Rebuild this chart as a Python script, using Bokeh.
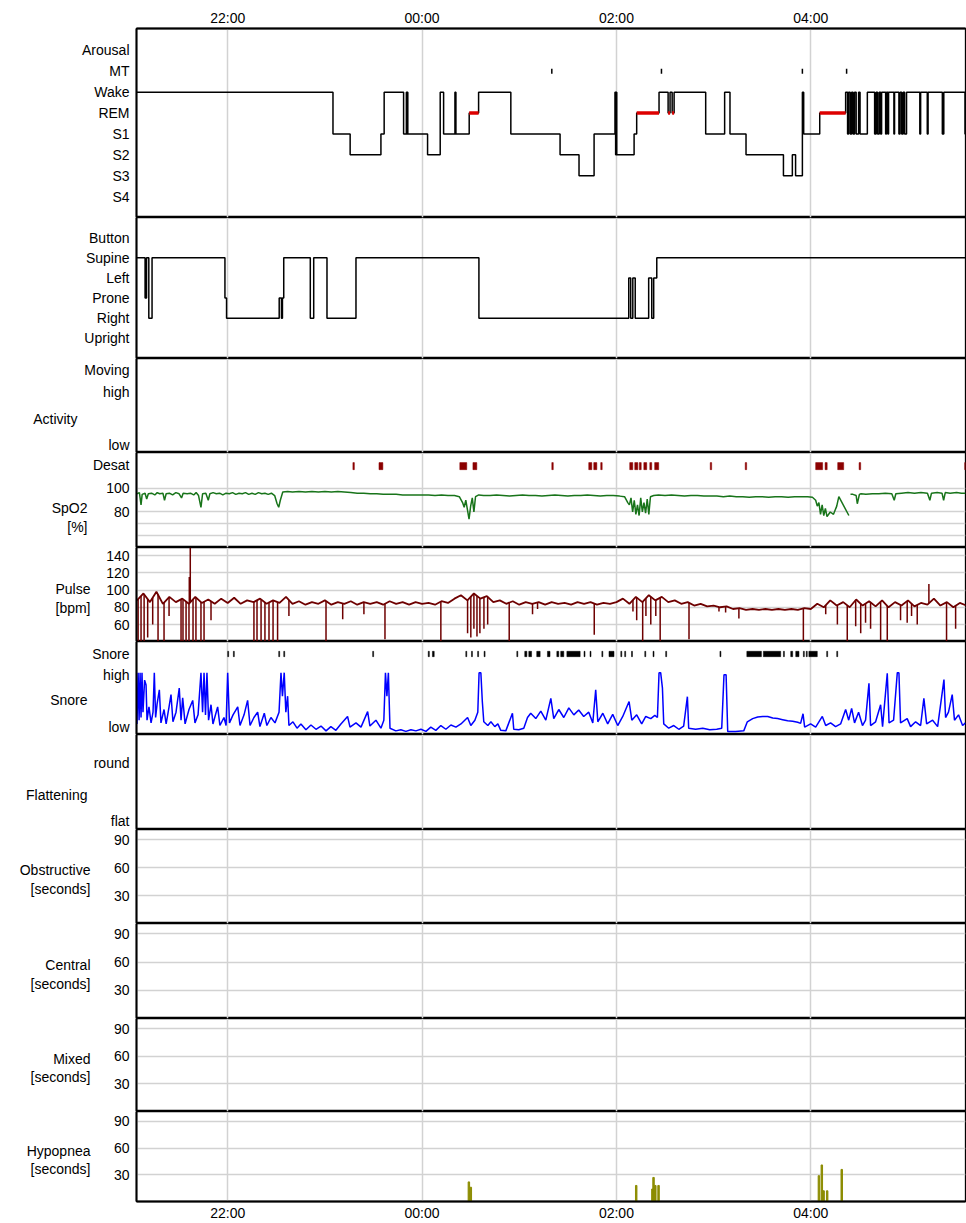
import numpy as np
from bokeh.plotting import figure
from bokeh.layouts import column, row
from bokeh.models import FixedTicker, Grid, Range1d
from bokeh.core.properties import value
from bokeh.embed import file_html
from bokeh.resources import INLINE

# ---------------- data (time unit: minutes after 21:00) ----------------
time_ticks = [60, 180, 300, 420]
time_labels = ["22:00", "00:00", "02:00", "04:00"]
X_START, X_END = 3.7, 515.5

stage_names = ["S4", "S3", "S2", "S1", "REM", "Wake", "MT", "Arousal"]
stage_levels = [1, 2, 3, 4, 5, 6, 7, 8]

sleep_t = [3.7, 125.0, 135.6, 154.6, 156.6, 168.6, 170.3, 170.6, 170.9, 171.2,
           183.4, 191.2, 193.3, 200.3, 200.9, 209.1, 214.9, 234.8, 265.2, 276.9,
           286.2, 299.1, 299.5, 299.8, 300.2, 310.9, 312.5, 326.3, 331.9, 333.1,
           334.4, 335.6, 355.1, 366.8, 370.1, 380.0, 403.1, 408.6, 410.6, 414.8,
           415.6, 425.5, 441.5, 442.7, 443.3, 444.3, 445.2, 446.1, 447.0, 448.0,
           449.5, 450.4, 454.9, 459.4, 460.3, 461.2, 462.2, 463.1, 463.7, 466.2,
           466.7, 467.6, 468.0, 471.3, 471.7, 474.4, 475.1, 476.1, 477.0, 477.9,
           479.1, 487.3, 487.8, 491.9, 492.4, 501.2, 502.1, 515.2]
sleep_stage = ["Wake", "S1", "S2", "S1", "Wake", "S1", "Wake", "S1", "Wake", "S1",
               "S2", "Wake", "S1", "Wake", "S1", "REM", "Wake", "S1", "S2", "S3",
               "S1", "Wake", "S2", "Wake", "S2", "S1", "REM", "Wake", "REM", "Wake",
               "REM", "Wake", "S1", "Wake", "S1", "S2", "S3", "S2", "S3", "Wake",
               "S1", "REM", "Wake", "S1", "Wake", "S1", "Wake", "S1", "Wake", "S1",
               "Wake", "S1", "Wake", "S1", "Wake", "S1", "Wake", "S1", "Wake", "S1",
               "Wake", "S1", "Wake", "S1", "Wake", "S1", "Wake", "S1", "Wake", "S1",
               "Wake", "S1", "Wake", "S1", "Wake", "S1", "Wake", "S1"]
mt_t = [260.1, 327.8, 414.8, 442.1]

pos_names = ["Upright", "Right", "Prone", "Left", "Supine", "Button"]
pos_levels = [1, 2, 3, 4, 5, 6]
pos_t = [3.7, 9.0, 9.9, 11.3, 13.3, 58.3, 59.3, 91.8, 93.2, 93.8,
         94.6, 111.0, 113.1, 121.3, 139.2, 215.1, 307.6, 308.8, 310.1, 311.6,
         319.9, 321.8, 323.0, 324.9]
pos_state = ["Supine", "Prone", "Supine", "Right", "Supine", "Prone", "Right", "Prone", "Right", "Prone",
             "Supine", "Right", "Supine", "Right", "Supine", "Right", "Left", "Right", "Left", "Right",
             "Left", "Right", "Left", "Supine"]

desat_start = [137.3, 153.4, 203.3, 211.4, 260.1, 282.9, 286.0, 290.3, 308.2, 311.3,
               314.1, 316.9, 320.6, 323.6, 357.9, 379.5, 423.0, 428.8, 436.6, 449.8, 515.0]
desat_end = [138.2, 155.8, 207.6, 213.8, 261.0, 284.8, 287.9, 291.2, 310.1, 313.2,
             315.3, 318.7, 321.8, 326.1, 358.8, 380.4, 427.3, 430.1, 440.3, 450.8, 515.9]

nan = float("nan")
spo2_t = [4, 5.5, 6.5, 7.2, 9, 10, 11, 13, 15, 16.5,
          18, 20, 21, 22, 24, 26, 28, 30, 31.5, 32.5,
          35, 37, 39, 40.5, 42, 43.5, 44.5, 46.5, 48, 49,
          51, 53, 55, 57, 59, 61, 63, 65, 67, 69,
          71, 73, 75, 77, 79, 81, 83, 85, 87, 89,
          90.5, 91.5, 92.5, 94, 97, 100, 104, 108, 112, 116,
          120, 124, 128, 132, 136, 140, 144, 148, 152, 156,
          160, 164, 168, 172, 176, 180, 184, 188, 192, 196,
          200, 203, 205, 206, 207, 208, 209, 210, 211, 212,
          213, 215, 218, 222, 226, 230, 234, 238, 242, 246,
          250, 254, 258, 262, 266, 270, 274, 278, 282, 286,
          290, 294, 298, 302, 305, 307, 308, 309, 310, 311,
          312, 313, 314, 315, 316, 317, 318, 319, 320, 321,
          323, 326, 330, 334, 338, 342, 346, 350, 354, 358,
          362, 366, 370, 374, 378, 382, 386, 390, 394, 398,
          402, 406, 410, 414, 418, 421, 423, 424, 425, 426,
          427, 428, 429, 430, 432, 434, 436, 437.3, 443.5, 444,
          444.5, 446, 448, 448.7, 450, 451, 454, 458, 462, 466,
          470, 471.5, 472.5, 476, 480, 484, 488, 492, 493.5, 494.5,
          498, 501, 502, 503, 506, 510, 513, 515.5]
spo2_v = [95.5, 96.5, 86, 95, 96, 91, 95.5, 96, 94.5, 96.5,
          95.5, 96, 90, 95.5, 96, 94.5, 96.5, 95.5, 92, 96,
          95.5, 96, 94.5, 96.5, 94, 84, 95.5, 96, 90, 95.5,
          96.5, 95.5, 96, 94.5, 96, 95.5, 96.5, 95, 96, 95.5,
          96.5, 95, 96, 95, 96.5, 95.5, 96, 95, 96, 94,
          87, 84, 90, 97, 97.5, 97, 97.5, 97, 97.5, 97,
          97.5, 97, 97.5, 97, 96.5, 96, 96, 95.5, 95.5, 95,
          95, 95, 94.5, 94.5, 94.5, 94.5, 94.5, 94, 94.5, 94,
          94, 93, 88, 84, 90, 82, 74, 85, 92, 80,
          93, 94.5, 94, 94, 94.5, 94, 93.5, 94, 94.5, 94,
          94, 93.5, 94, 94.5, 94, 93.5, 94, 94, 94.5, 94,
          93.5, 94, 94, 93.5, 93, 88, 86, 92, 80, 90,
          78, 86, 77, 92, 80, 88, 79, 91, 78, 93,
          94, 94.5, 94, 94.5, 94, 93.5, 94, 94, 93.5, 93.5,
          93.5, 93, 93.5, 93, 93, 92.5, 93, 93, 92.5, 93,
          93, 92.5, 93, 93, 93, 92.5, 90, 85, 88, 78,
          86, 77, 83, 76, 80, 78, 85, 93, 77, nan,
          95, 95, 94, 87, 95, 95.5, 95, 95.5, 95.5, 96,
          95.5, 90, 95.5, 96, 96.5, 96, 96.5, 96, 90, 96,
          96.5, 96, 90, 96.5, 96, 96.5, 96, 96]

pulse_t = list(range(4, 517, 4))
pulse_v = [88, 96, 86, 98, 84, 92, 86, 90, 84, 92,
           85, 89, 84, 90, 85, 91, 84, 88, 86, 90,
           84, 88, 85, 92, 84, 87, 83, 86, 84, 88,
           83, 86, 84, 87, 83, 86, 84, 86, 83, 87,
           84, 86, 83, 86, 84, 85, 83, 87, 85, 90,
           94, 88, 96, 90, 93, 86, 88, 84, 87, 83,
           86, 84, 86, 83, 86, 84, 85, 83, 86, 84,
           86, 83, 85, 84, 86, 90, 84, 92, 86, 94,
           88, 92, 86, 88, 84, 86, 82, 84, 81, 82,
           80, 81, 78, 79, 77, 78, 77, 78, 77, 78,
           77, 78, 77, 79, 78, 84, 80, 88, 82, 86,
           80, 89, 82, 87, 81, 88, 80, 86, 82, 88,
           81, 85, 83, 90, 82, 86, 80, 85, 82]
pulse_drop_t = [4.7, 6.5, 8.4, 10.6, 13.7, 17.0, 20.7, 23.8, 31.2, 32.4,
                34.3, 36.1, 38.6, 40.4, 43.5, 45.4, 49.7, 76.2, 78.1, 80.6,
                83.0, 85.5, 88.0, 90.8, 97.8, 120.7, 131.0, 144.1, 157.1, 191.6,
                208.1, 210.1, 212.0, 213.9, 215.7, 218.2, 220.5, 233.8, 248.2, 251.3,
                286.3, 310.2, 312.5, 316.2, 318.2, 321.2, 324.3, 327.0, 344.8, 363.3,
                367.4, 375.6, 415.4, 429.2, 436.4, 442.5, 447.7, 450.8, 453.8, 456.9,
                463.1, 467.2, 475.4, 479.5, 482.2, 485.7, 503.8, 509.4]
pulse_drop_v = [41, 41, 41, 45, 60, 41, 41, 70, 41, 41,
                41, 41, 41, 41, 41, 41, 65, 41, 41, 41,
                41, 41, 41, 41, 70, 41, 66, 72, 43, 41,
                50, 45, 55, 46, 50, 55, 60, 41, 72, 78,
                48, 75, 65, 41, 70, 60, 70, 41, 43, 75,
                74, 67, 41, 72, 60, 41, 58, 50, 62, 55,
                42, 41, 65, 62, 70, 60, 41, 55]
pulse_peak_t = [36.3, 36.9, 492.9]
pulse_peak_v = [115, 149, 107]

snore_ev_start = [60.0, 63.5, 91.5, 94.6, 149.5, 183.8, 186.4, 207.0, 210.5, 214.3,
                  218.3, 238.5, 243.4, 245.9, 250.8, 257.4, 263.2, 265.6, 269.4, 280.0,
                  283.7, 291.0, 295.4, 302.7, 305.1, 309.3, 317.5, 322.6, 330.4, 363.9,
                  380.5, 390.7, 403.1, 407.6, 410.7, 415.4, 417.2, 418.8, 429.8, 436.0]
snore_ev_end = [60.6, 64.1, 92.1, 95.2, 150.1, 184.5, 187.5, 207.6, 211.1, 214.9,
                218.9, 239.1, 244.7, 247.6, 252.9, 259.0, 264.4, 267.5, 277.6, 280.6,
                284.3, 291.6, 298.5, 303.3, 305.7, 309.9, 318.1, 323.2, 331.0, 364.5,
                389.5, 401.4, 403.7, 408.8, 412.7, 416.0, 417.8, 424.0, 430.4, 436.6]

snore_t = [4.0, 4.7, 5.3, 5.9, 6.5, 7.1, 7.7, 8.7, 9.6, 10.2,
           11.4, 12.7, 13.9, 14.7, 15.5, 16.4, 17.8, 18.8, 20.7, 22.0,
           23.8, 25.0, 26.2, 28.1, 30.1, 31.2, 32.2, 33.7, 36.1, 38.4,
           39.8, 41.7, 43.5, 44.5, 45.4, 46.3, 47.2, 48.2, 49.7, 50.9,
           53.8, 55.2, 57.7, 59.0, 60.0, 61.1, 63.3, 66.2, 67.6, 70.1,
           72.3, 73.8, 76.2, 78.5, 79.9, 82.6, 84.2, 86.7, 89.2, 91.7,
           92.9, 93.8, 94.9, 95.9, 97.0, 97.8, 100.3, 102.8, 105.2, 108.3,
           111.4, 114.5, 117.6, 120.7, 123.7, 126.8, 129.9, 134.0, 135.5, 139.2,
           142.3, 146.4, 147.8, 151.5, 154.6, 156.4, 157.4, 158.3, 159.2, 160.2,
           163.8, 166.9, 170.0, 173.1, 176.2, 179.3, 182.4, 185.4, 188.5, 191.6,
           194.7, 197.8, 200.9, 204.0, 208.1, 210.1, 212.6, 214.4, 215.2, 216.3,
           217.2, 218.1, 220.6, 222.5, 224.9, 226.8, 228.6, 231.7, 235.8, 236.6,
           239.7, 242.8, 245.1, 247.1, 250.2, 253.3, 256.4, 259.5, 261.3, 264.4,
           267.5, 270.6, 273.7, 276.7, 279.8, 282.9, 285.4, 287.2, 288.5, 291.6,
           294.6, 297.7, 300.8, 303.9, 307.8, 309.5, 312.5, 315.6, 318.1, 321.2,
           323.7, 325.3, 326.3, 327.3, 328.4, 329.2, 332.3, 335.4, 338.5, 341.5,
           343.8, 344.6, 348.9, 353.3, 357.6, 361.9, 365.0, 366.4, 367.7, 368.7,
           373.6, 378.6, 380.8, 384.1, 387.2, 390.3, 393.4, 396.5, 399.5, 402.6,
           405.7, 408.8, 411.9, 413.7, 415.2, 416.2, 419.9, 423.0, 427.1, 429.2,
           432.2, 435.3, 438.4, 441.5, 443.4, 445.2, 447.0, 449.5, 451.9, 453.8,
           455.9, 456.9, 460.0, 463.1, 464.3, 467.2, 468.3, 471.1, 473.4, 474.4,
           475.4, 479.5, 481.6, 484.7, 487.8, 489.8, 491.5, 495.2, 498.3, 502.2,
           503.2, 505.0, 507.3, 508.7, 511.2, 513.7, 515.5]
snore_v = [8, 104, 15, 104, 20, 104, 30, 90, 81, 15,
           40, 10, 30, 104, 20, 45, 72, 10, 35, 8,
           40, 63, 12, 30, 75, 15, 57, 8, 35, 52,
           10, 25, 104, 30, 104, 25, 104, 15, 44, 8,
           40, 5, 20, 5, 104, 10, 25, 40, 5, 25,
           52, 5, 20, 30, 3, 28, 5, 20, 10, 30,
           104, 60, 104, 30, 60, 5, 12, 0, 8, -3,
           6, -2, 4, -5, 3, -4, 8, 22, 2, 10,
           2, 31, 4, 15, 0, 15, 104, 60, 104, 0,
           -5, -3, -6, -3, -5, -2, -6, 2, -4, 5,
           -2, 6, 2, 8, 20, 5, 15, 30, 104, 104,
           50, 12, 5, 12, 3, 8, -4, -5, 28, -2,
           -3, 0, 20, 28, 18, 32, 15, 56, 18, 35,
           20, 38, 25, 34, 22, 30, 10, 72, 12, 28,
           8, 26, 5, 22, 50, 15, 25, 8, 22, 18,
           24, 20, 104, 104, 75, 8, 0, 5, -2, 4,
           59, 0, -2, 0, -3, -2, 0, 100, 100, -6,
           -6, -5, 12, 18, 21, 22, 22, 19, 18, 16,
           14, 13, 11, 9, 27, 2, 8, 2, 22, 5,
           10, 3, 8, 35, 15, 37, 10, 30, 5, 15,
           84, 5, 12, 44, 3, 103, 10, 15, 104, 104,
           10, 18, 3, 12, 5, 56, 8, 15, 3, 91,
           20, 30, 63, 15, 25, 5, 10]

hyp_t = [208.9, 210.1, 312.2, 322.2, 322.9, 324.0, 326.0, 425.0, 426.8, 427.9, 430.1, 439.1]
hyp_v = [22, 16, 18, 14, 27, 18, 18, 29, 41, 12, 12, 36]

# ---------------- styling ----------------
FONT = "Liberation Sans"
FS = "14px"
W = 966
LEFT = 136
GRID = "#d2d2d2"
xr = Range1d(X_START, X_END)


def style_axis(ax, standoff=7):
    ax.major_tick_line_color = None
    ax.minor_tick_line_color = None
    ax.major_tick_out = 0
    ax.major_tick_in = 0
    ax.minor_tick_out = 0
    ax.minor_tick_in = 0
    ax.axis_line_color = "black"
    ax.axis_line_width = 2
    ax.major_label_text_font = FONT
    ax.major_label_text_font_size = FS
    ax.major_label_text_color = "black"
    ax.major_label_standoff = standoff


def panel(h, y0, y1, ticks, labels, grid_ticks=None, xaxis=None, top=0, bottom=0, split=0):
    p = figure(width=W - split, height=h, x_range=xr, y_range=Range1d(y0, y1),
               output_backend="svg", toolbar_location=None,
               x_axis_location=xaxis, y_axis_location="left",
               min_border_left=LEFT - split, min_border_right=1,
               min_border_top=top, min_border_bottom=bottom)
    p.grid.visible = False
    p.outline_line_color = "black"
    p.outline_line_width = 1.3
    ax = p.yaxis[0]
    ax.ticker = FixedTicker(ticks=ticks)
    ax.major_label_overrides = dict(zip(ticks, labels))
    style_axis(ax)
    if xaxis is not None:
        xa = p.xaxis[0]
        xa.ticker = FixedTicker(ticks=time_ticks)
        xa.major_label_overrides = dict(zip(time_ticks, time_labels))
        style_axis(xa, standoff=3)
    p.add_layout(Grid(dimension=0, ticker=FixedTicker(ticks=time_ticks),
                      grid_line_color=GRID, grid_line_width=1.5))
    if grid_ticks:
        p.add_layout(Grid(dimension=1, ticker=FixedTicker(ticks=grid_ticks),
                          grid_line_color=GRID, grid_line_width=1.5))
    return p


def titled(p, lines, ys, split, bottom=0):
    """Left-hand title column: a narrow figure sharing the panel's y scale."""
    lf = figure(width=split, height=p.height, x_range=Range1d(0, split), y_range=p.y_range,
                output_backend="svg", toolbar_location=None,
                x_axis_location=None, y_axis_location=None,
                min_border_left=0, min_border_right=0,
                min_border_top=0, min_border_bottom=bottom)
    lf.outline_line_color = None
    lf.grid.visible = False
    lf.text(x=[split - 1] * len(lines), y=ys, text=lines,
            text_align="right", text_baseline="middle",
            text_font=value(FONT), text_font_size=value(FS), text_color="black")
    return row(lf, p, spacing=0)


# 1. sleep stages
stage_map = dict(zip(stage_names, stage_levels))
p1 = panel(217, 0, 9.05, stage_levels, stage_names, xaxis="above", top=28)
sx = sleep_t + [X_END]
sy = [stage_map[s] for s in sleep_stage] + [stage_map[sleep_stage[-1]]]
p1.step(sx, sy, mode="after", line_color="black", line_width=1.5)
rem_i = [i for i, s in enumerate(sleep_stage) if s == "REM"]
p1.segment(x0=[sx[i] for i in rem_i], x1=[sx[i + 1] for i in rem_i],
           y0=[stage_map["REM"]] * len(rem_i), y1=[stage_map["REM"]] * len(rem_i),
           line_color="#dd0000", line_width=3.5)
p1.segment(x0=mt_t, x1=mt_t, y0=[stage_map["MT"] - 0.12] * len(mt_t),
           y1=[stage_map["MT"] + 0.12] * len(mt_t), line_color="black", line_width=1.5)

# 2. body position
pos_map = dict(zip(pos_names, pos_levels))
p2 = panel(141, 0, 7, pos_levels, pos_names)
px = pos_t + [X_END]
py = [pos_map[s] for s in pos_state] + [pos_map[pos_state[-1]]]
p2.step(px, py, mode="after", line_color="black", line_width=1.5)

# 3. activity
p3 = panel(94, 0, 10, [8.8, 6.4, 0.8], ["Moving", "high", "low"], split=78)
r3 = titled(p3, ["Activity"], [3.6], 78)

# 4. SpO2 + desaturation
p4 = panel(95, 49.8, 130.6, [120, 100, 80], ["Desat", "100", "80"],
           grid_ticks=[100, 80, 70, 60], split=88)
p4.quad(left=desat_start, right=desat_end, bottom=116, top=122,
        fill_color="#8b0000", line_color="#8b0000", line_width=0.5)
p4.line(spo2_t, spo2_v, line_color="#18741a", line_width=1.5)
r4 = titled(p4, ["SpO2", "[%]"], [83.8, 67], 88)

# 5. pulse
p5 = panel(94, 40.3, 149.3, [140, 120, 100, 80, 60], ["140", "120", "100", "80", "60"],
           grid_ticks=[140, 120, 100, 80, 60], split=91)
PULSE = "#6e0000"
p5.line(pulse_t, pulse_v, line_color=PULSE, line_width=1.8)
base_d = np.interp(pulse_drop_t, pulse_t, pulse_v)
p5.segment(x0=pulse_drop_t, x1=pulse_drop_t, y0=base_d, y1=pulse_drop_v,
           line_color=PULSE, line_width=1.5)
base_p = np.interp(pulse_peak_t, pulse_t, pulse_v)
p5.segment(x0=pulse_peak_t, x1=pulse_peak_t, y0=base_p, y1=pulse_peak_v,
           line_color=PULSE, line_width=1.5)
r5 = titled(p5, ["Pulse", "[bpm]"], [101.7, 79.7], 91)

# 6. snore
p6 = panel(93, -11.8, 162.4, [139, 100, 0], ["Snore", "high", "low"], split=88)
p6.quad(left=snore_ev_start, right=snore_ev_end, bottom=134, top=144,
        fill_color="black", line_color="black", line_width=0.5)
p6.line(snore_t, snore_v, line_color="#0000ff", line_width=1.5)
r6 = titled(p6, ["Snore"], [53], 88)

# 7. flattening
p7 = panel(95, 0, 10, [7, 0.9], ["round", "flat"], split=88)
r7 = titled(p7, ["Flattening"], [3.65], 88)

# 8-11. apnea / hypopnea durations
ev_ticks = [90, 60, 30]
ev_labels = ["90", "60", "30"]
p8 = panel(94, 0, 101, ev_ticks, ev_labels, grid_ticks=ev_ticks, split=91)
r8 = titled(p8, ["Obstructive", "[seconds]"], [57, 37], 91)
p9 = panel(95, 0, 101, ev_ticks, ev_labels, grid_ticks=ev_ticks, split=91)
r9 = titled(p9, ["Central", "[seconds]"], [57, 37], 91)
p10 = panel(93, 0, 101, ev_ticks, ev_labels, grid_ticks=ev_ticks, split=91)
r10 = titled(p10, ["Mixed", "[seconds]"], [57, 37], 91)
p11 = panel(112, 0, 101, ev_ticks, ev_labels, grid_ticks=ev_ticks, xaxis="below",
            bottom=17, split=91)
p11.vbar(x=hyp_t, top=hyp_v, bottom=0, width=0.9, fill_color="#8c8c00", line_color="#8c8c00")
r11 = titled(p11, ["Hypopnea", "[seconds]"], [57, 37], 91, bottom=17)

layout = column(p1, p2, r3, r4, r5, r6, r7, r8, r9, r10, r11, spacing=0)
open("out.html", "w").write(file_html(layout, INLINE))
